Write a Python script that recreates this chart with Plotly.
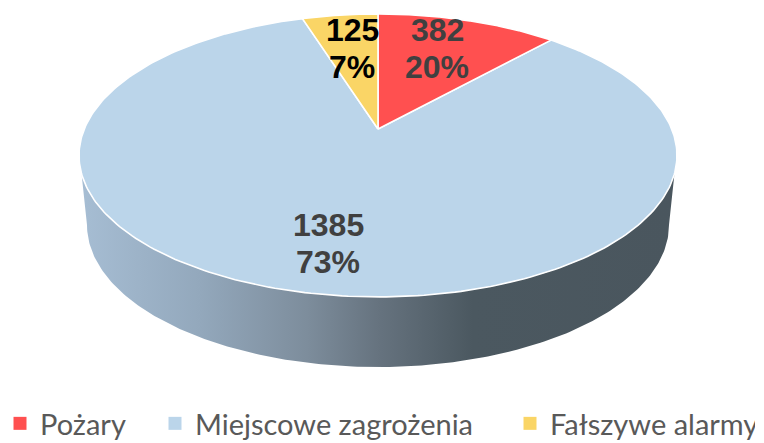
import numpy as np
import plotly.graph_objects as go

categories = ["Pożary", "Miejscowe zagrożenia", "Fałszywe alarmy"]
counts = [382, 1385, 125]
percent_labels = ["20%", "73%", "7%"]
# Share of the circle each slice visibly occupies in the picture (clockwise from the top,
# red first, yellow last); the printed labels above differ from it in the original.
drawn_shares = [11.7, 83.4, 4.9]
colors = ["#FF5050", "#BBD5EA", "#FAD566"]
label_colors = ["#404040", "#404040", "#000000"]
legend_widths = [110, 310, 200]

# projection of the tilted disc to page pixels
APEX_X, APEX_Y = 378.0, 129.0
A, B, K = 293.7, 136.5, 0.187
FIG_H = 449  # slightly taller than the window so the legend text sits low, as in the original


def project(theta):
    u, v = np.sin(theta), np.cos(theta)
    d = 1 + K * v
    return APEX_X + A * u / d, APEX_Y - B * v / d


fig = go.Figure()

# side wall
ts = np.linspace(0, 2 * np.pi, 721)
rx, ry = project(ts)
front = ry >= 173
order = np.argsort(-rx[front])
rim_x, rim_y = rx[front][order][::-1], ry[front][order][::-1]
phi = np.linspace(np.pi, 0, 200)
low_x = 378 + 291 * np.cos(phi)
low_y = 225 + 142 * np.sin(phi)
wall_x = np.concatenate([rim_x, low_x[::-1]])
wall_y = np.concatenate([rim_y, low_y[::-1]])
fig.add_trace(go.Scatter(
    x=wall_x, y=wall_y, mode="lines", fill="toself", showlegend=False, hoverinfo="skip",
    line=dict(width=0, color="rgba(0,0,0,0)"),
    fillgradient=dict(type="horizontal", colorscale=[
        [0.0, "#A6BDD3"], [0.2, "#93A8BC"], [0.38, "#7D8D9C"],
        [0.5, "#66737F"], [0.66, "#4B5860"], [1.0, "#4A565E"]]),
))

# top face slices
edges = np.radians(np.cumsum([0] + drawn_shares) * 3.6)
for i in [1, 0, 2]:
    th = np.linspace(edges[i], edges[i + 1], 300)
    px, py = project(th)
    fig.add_trace(go.Scatter(
        x=np.concatenate([[APEX_X], px, [APEX_X]]),
        y=np.concatenate([[APEX_Y], py, [APEX_Y]]),
        mode="lines", fill="toself", fillcolor=colors[i], showlegend=False,
        line=dict(color="white", width=1.6), hoverinfo="skip",
    ))

# legend swatches
for name, c, w in zip(categories, colors, legend_widths):
    fig.add_trace(go.Scatter(x=[None], y=[None], mode="markers", name=name, legendwidth=w,
                             marker=dict(symbol="square", color=c, size=13)))

label_pos = [(437, 30, 67), (328, 225, 262), (352, 30, 67)]
for cnt, pct, col, (x, y1, y2) in zip(counts, percent_labels, label_colors, label_pos):
    for txt, y in ((str(cnt), y1), (pct, y2)):
        fig.add_annotation(x=x, y=y, text=f"<b>{txt}</b>", showarrow=False, xanchor="center",
                           yanchor="middle", font=dict(family="Liberation Sans", size=32, color=col))

fig.update_layout(
    width=764, height=FIG_H, margin=dict(l=0, r=0, t=0, b=0),
    paper_bgcolor="white", plot_bgcolor="white",
    xaxis=dict(range=[0, 764], visible=False, fixedrange=True),
    yaxis=dict(range=[FIG_H, 0], visible=False, fixedrange=True),
    legend=dict(orientation="h", x=0, y=0, xanchor="left", yanchor="bottom",
                font=dict(family="Lato", size=29, color="#595959"),
                itemwidth=30, tracegroupgap=0, bgcolor="rgba(0,0,0,0)"),
)
fig.write_html("out.html", config=dict(displayModeBar=False),
               post_script="document.body.style.margin='0';document.body.style.overflow='hidden';")
